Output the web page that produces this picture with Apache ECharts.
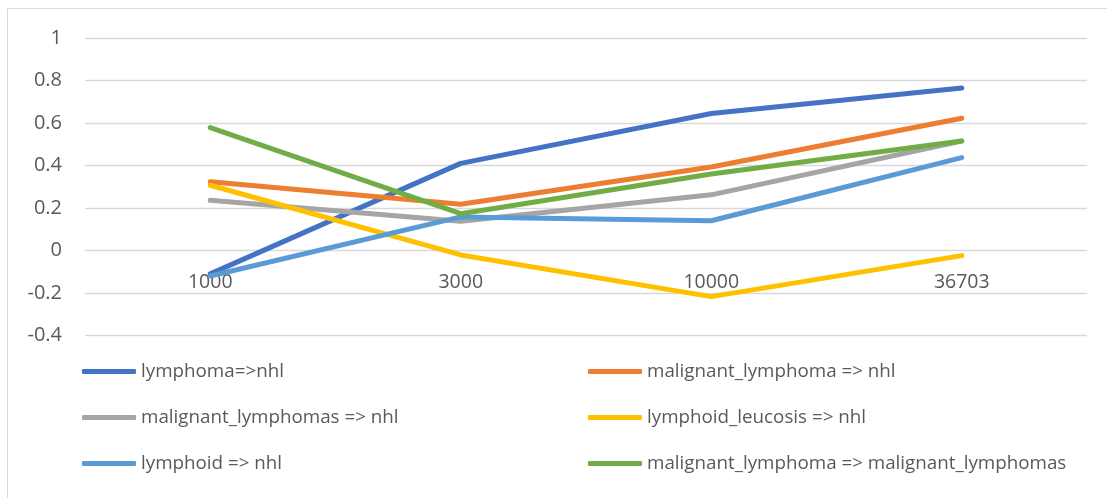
<!DOCTYPE html>
<html>
<head>
<meta charset="utf-8">
<script src="https://cdn.jsdelivr.net/npm/echarts@6/dist/echarts.min.js"></script>
<style>html,body{margin:0;padding:0;background:#fff}#c{width:1107px;height:498px}</style>
</head>
<body>
<div id="c"></div>
<script>
const categories = ['1000', '3000', '10000', '36703'];
const seriesNames = [
  'lymphoma=>nhl',
  'malignant_lymphoma => nhl',
  'malignant_lymphomas => nhl',
  'lymphoid_leucosis => nhl',
  'lymphoid => nhl',
  'malignant_lymphoma => malignant_lymphomas'
];
const lymphomaNhl = [-0.11, 0.41, 0.645, 0.765];
const malignantLymphomaNhl = [0.324, 0.218, 0.393, 0.622];
const malignantLymphomasNhl = [0.236, 0.138, 0.262, 0.515];
const lymphoidLeucosisNhl = [0.307, -0.021, -0.217, -0.024];
const lymphoidNhl = [-0.12, 0.158, 0.14, 0.437];
const malLymphomaMalLymphomas = [0.578, 0.173, 0.36, 0.515];
const seriesValues = [lymphomaNhl, malignantLymphomaNhl, malignantLymphomasNhl, lymphoidLeucosisNhl, lymphoidNhl, malLymphomaMalLymphomas];
const colors = ['#4472C4', '#ED7D31', '#A5A5A5', '#FFC000', '#5B9BD5', '#70AD47'];

const font = 'Open Sans';
const chart = echarts.init(document.getElementById('c'));
const legendCommon = {
  orient: 'vertical', itemWidth: 54, itemHeight: 5, itemGap: 22,
  icon: 'roundRect',
  textStyle: { fontFamily: font, fontSize: 18.8, lineHeight: 24, color: '#595959' },
  selectedMode: false
};
chart.setOption({
  animation: false,
  color: colors,
  graphic: [{
    type: 'rect', shape: { x: 7.5, y: 8.5, width: 1120, height: 500 },
    style: { fill: 'none', stroke: '#D9D9D9', lineWidth: 1 }, silent: true, z: -1
  }],
  grid: { left: 85, right: 20, top: 38, bottom: 162.5 },
  legend: [
    Object.assign({ left: 77, top: 354.5, data: [seriesNames[0], seriesNames[2], seriesNames[4]] }, legendCommon),
    Object.assign({ left: 583, top: 354.5, data: [seriesNames[1], seriesNames[3], seriesNames[5]] }, legendCommon)
  ],
  xAxis: {
    type: 'category', data: categories, boundaryGap: true, offset: -85,
    axisLine: { show: false }, axisTick: { show: false },
    axisLabel: { fontFamily: font, fontSize: 19.5, color: '#595959', margin: 22 }
  },
  yAxis: {
    type: 'value', min: -0.4, max: 1, interval: 0.2,
    axisLabel: { fontFamily: font, fontSize: 20, color: '#595959', margin: 23,
      formatter: v => String(Math.round(v * 10) / 10) },
    splitLine: { lineStyle: { color: '#D9D9D9', width: 1.3 } },
    axisLine: { show: false }, axisTick: { show: false }
  },
  series: seriesNames.map((n, i) => ({
    name: n, type: 'line', data: seriesValues[i], showSymbol: false, symbol: 'none',
    lineStyle: { width: 5, color: colors[i], cap: 'round', join: 'round' },
    itemStyle: { color: colors[i] }
  }))
});
</script>
</body>
</html>
